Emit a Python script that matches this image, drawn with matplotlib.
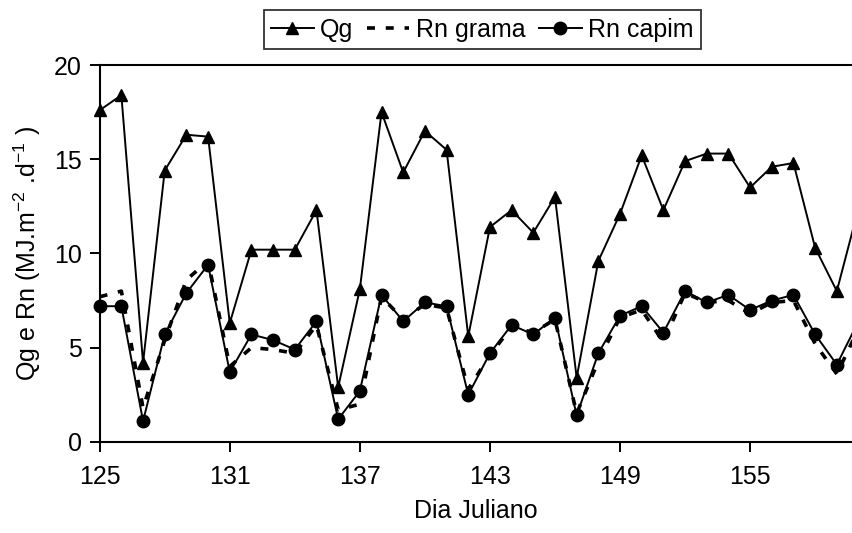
import matplotlib
matplotlib.use('Agg')
import matplotlib.pyplot as plt

plt.rcParams['font.family'] = ['Liberation Sans', 'DejaVu Sans']
plt.rcParams['mathtext.fontset'] = 'custom'
plt.rcParams['mathtext.rm'] = 'Liberation Sans'
plt.rcParams['mathtext.it'] = 'Liberation Sans'

# Dia juliano
dias = list(range(125, 161))

# Radiacao global (Qg)
qg = [17.6, 18.4, 4.2, 14.4, 16.3, 16.2, 6.3, 10.2, 10.2, 10.2,
      12.3, 2.9, 8.1, 17.5, 14.3, 16.5, 15.5, 5.6, 11.4, 12.3,
      11.1, 13.0, 3.4, 9.6, 12.1, 15.2, 12.3, 14.9, 15.3, 15.3,
      13.5, 14.6, 14.8, 10.3, 8.0, 12.4]

# Saldo de radiacao - grama
rn_grama = [7.7, 8.0, 1.8, 5.4, 8.6, 9.6, 4.0, 5.0, 4.9, 4.7,
            6.2, 1.7, 2.0, 7.7, 6.5, 7.3, 7.1, 2.8, 4.6, 6.1,
            5.8, 6.5, 1.5, 4.3, 6.6, 7.0, 5.3, 7.9, 7.4, 7.5,
            6.8, 7.4, 7.5, 5.2, 3.6, 6.0]

# Saldo de radiacao - capim
rn_capim = [7.2, 7.2, 1.1, 5.7, 7.9, 9.4, 3.7, 5.7, 5.4, 4.9,
            6.4, 1.2, 2.7, 7.8, 6.4, 7.4, 7.2, 2.5, 4.7, 6.2,
            5.7, 6.6, 1.4, 4.7, 6.7, 7.2, 5.8, 8.0, 7.4, 7.8,
            7.0, 7.5, 7.8, 5.7, 4.1, 6.4]

fig = plt.figure(figsize=(8.52, 5.33), dpi=100)
ax = fig.add_axes([0.117, 0.171, 0.883, 0.707])

ax.plot(dias, qg, color='black', lw=1.4, marker='^', markersize=9, label='Qg', clip_on=False)
ax.plot(dias, rn_grama, color='black', lw=2.6, ls=(0, (2.2, 3.0)), label='Rn grama', clip_on=False)
ax.plot(dias, rn_capim, color='black', lw=1.4, marker='o', markersize=9, label='Rn capim', clip_on=False)

ax.set_xlim(125, 159.7)
ax.set_ylim(0, 20)
ax.set_xticks([125, 131, 137, 143, 149, 155])
ax.set_yticks([0, 5, 10, 15, 20])
ax.tick_params(direction='out', length=7, width=1.4, labelsize=18)
ax.tick_params(axis='x', pad=10)
ax.tick_params(axis='y', pad=6)
for s in ['left', 'bottom', 'top']:
    ax.spines[s].set_linewidth(1.5)
ax.spines['right'].set_visible(False)

ax.set_xlabel('Dia Juliano', fontsize=18, labelpad=7)
ax.set_ylabel('Qg e Rn (MJ.m$^{-2}$ .d$^{-1}$ )', fontsize=18, labelpad=8)

leg = fig.legend(loc='upper center', bbox_to_anchor=(0.566, 0.981), ncol=3,
                 fontsize=18, frameon=True, fancybox=False, handlelength=1.7,
                 handletextpad=0.25, columnspacing=0.55, borderpad=0.3,
                 borderaxespad=0)
leg.get_frame().set_edgecolor('black')
leg.get_frame().set_linewidth(1.3)

fig.savefig('out.png', dpi=100)
